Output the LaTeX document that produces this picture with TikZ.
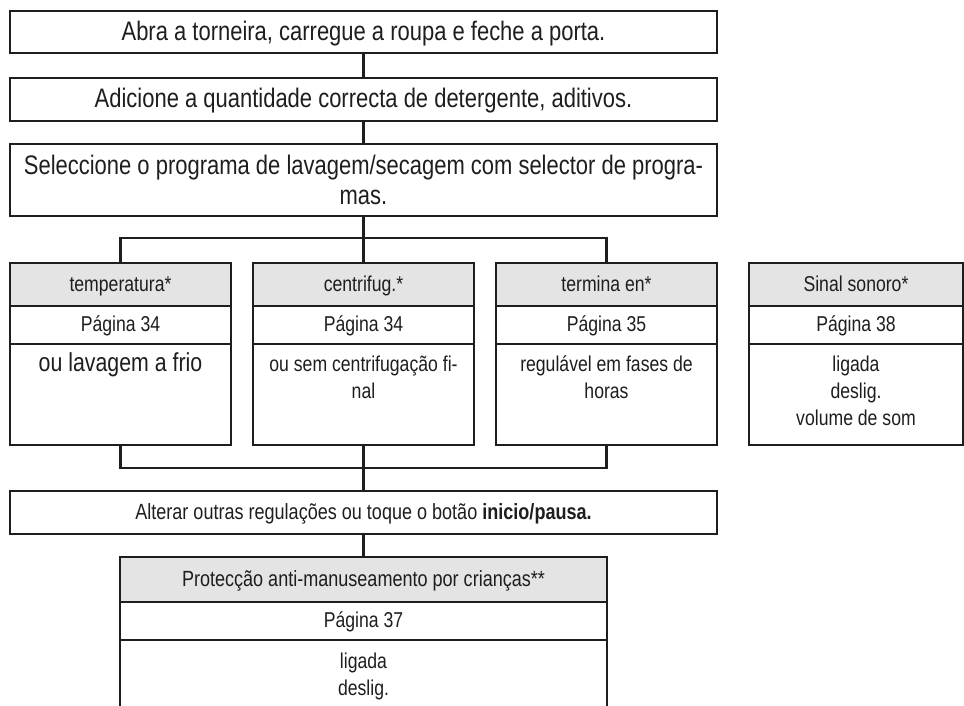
\documentclass[tikz,border=0pt]{standalone}
\usepackage{fontspec}
\setmainfont{Liberation Sans}[FakeStretch=0.82]
\newcommand\fbig{\fontsize{26.8}{30}\selectfont}
\newcommand\fbody{\fontsize{26}{30}\selectfont}
\newcommand\fsmall{\fontsize{21.5}{27}\selectfont}
\newcommand\fmid{\fontsize{22}{27}\selectfont}
\definecolor{ink}{HTML}{1E1E1E}
\definecolor{hdrgray}{HTML}{E4E4E4}
\begin{document}
\begin{tikzpicture}[x=1pt,y=-1pt,
  conn/.style={draw=ink,line width=2.2pt},
  mainbox/.style={draw=ink,line width=2.2pt,rectangle,inner sep=0pt,align=center,font=\fbig,text=ink},
  onebig/.style={text height=22.8pt,text depth=6.2pt},
  onesmall/.style={text height=18.3pt,text depth=5pt},
  cell/.style={draw=ink,line width=2.2pt,rectangle,inner sep=0pt,align=center,font=\fsmall,text=ink,onesmall},
  hdrcell/.style={cell,fill=hdrgray},
  bodytxt/.style={inner sep=0pt,anchor=base,font=\fsmall,text=ink}]
\useasboundingbox (0,0) rectangle (964,706);
% top boxes
\node[mainbox,onebig,minimum width=707,minimum height=42] (b1) at (363.5,32) {Abra a torneira, carregue a roupa e feche a porta.};
\node[mainbox,onebig,minimum width=707,minimum height=43] (b2) at (363.5,99.5) {Adicione a quantidade correcta de detergente, aditivos.};
\node[mainbox,minimum width=707,minimum height=72] (b3) at (363.5,180) {Seleccione o programa de lavagem/secagem com selector de progra-\\mas.};
\draw[conn] (b1.south) -- (b2.north);
\draw[conn] (b2.south) -- (b3.north);
% cards
\node[hdrcell,minimum width=221,minimum height=43] (aH) at (120.5,284.5) {temperatura*};
\node[cell,minimum width=221,minimum height=38] (aP) at (120.5,325) {Página 34};
\node[cell,minimum width=221,minimum height=101] (aB) at (120.5,394.5) {};
\node[bodytxt,font=\fbody] (aT1) at ([yshift=-29pt]aB.north) {ou lavagem a frio};

\node[hdrcell,minimum width=221,minimum height=43] (bH) at (363.5,284.5) {centrifug.*};
\node[cell,minimum width=221,minimum height=38] (bP) at (363.5,325) {Página 34};
\node[cell,minimum width=221,minimum height=101] (bB) at (363.5,394.5) {};
\node[bodytxt] (bT1) at ([yshift=-29pt]bB.north) {ou sem centrifugação fi-};
\node[bodytxt] (bT2) at ([yshift=-56pt]bB.north) {nal};

\node[hdrcell,minimum width=221,minimum height=43] (cH) at (606.5,284.5) {termina en*};
\node[cell,minimum width=221,minimum height=38] (cP) at (606.5,325) {Página 35};
\node[cell,minimum width=221,minimum height=101] (cB) at (606.5,394.5) {};
\node[bodytxt] (cT1) at ([yshift=-29pt]cB.north) {regulável em fases de};
\node[bodytxt] (cT2) at ([yshift=-56pt]cB.north) {horas};

\node[hdrcell,minimum width=214,minimum height=43] (dH) at (856,284.5) {Sinal sonoro*};
\node[cell,minimum width=214,minimum height=38] (dP) at (856,325) {Página 38};
\node[cell,minimum width=214,minimum height=101] (dB) at (856,394.5) {};
\node[bodytxt] (dT1) at ([yshift=-29pt]dB.north) {ligada};
\node[bodytxt] (dT2) at ([yshift=-56pt]dB.north) {deslig.};
\node[bodytxt] (dT3) at ([yshift=-83pt]dB.north) {volume de som};
% upper bus
\coordinate (busT) at (363.5,238);
\draw[conn] (b3.south) -- (busT);
\draw[conn] (aH.north) -- (aH.north |- busT) -- (cH.north |- busT) -- (cH.north);
\draw[conn] (busT) -- (bH.north);
% lower bus
\node[mainbox,onesmall,font=\fmid,minimum width=707,minimum height=43] (alt) at (363.5,512.5) {Alterar outras regulações ou toque o botão \textbf{inicio/pausa.}};
\coordinate (busB) at (363.5,468);
\draw[conn] (aB.south) -- (aB.south |- busB) -- (cB.south |- busB) -- (cB.south);
\draw[conn] (bB.south) -- (alt.north);
% child lock card
\node[hdrcell,font=\fmid,minimum width=487,minimum height=45] (pH) at (363.5,579.5) {Protecção anti-manuseamento por crianças**};
\node[cell,minimum width=487,minimum height=38] (pP) at (363.5,621) {Página 37};
\node[cell,minimum width=487,minimum height=90] (pB) at (363.5,685) {};
\node[bodytxt] (pT1) at ([yshift=-30pt]pB.north) {ligada};
\node[bodytxt] (pT2) at ([yshift=-57pt]pB.north) {deslig.};
\draw[conn] (alt.south) -- (pH.north);
\end{tikzpicture}
\end{document}
